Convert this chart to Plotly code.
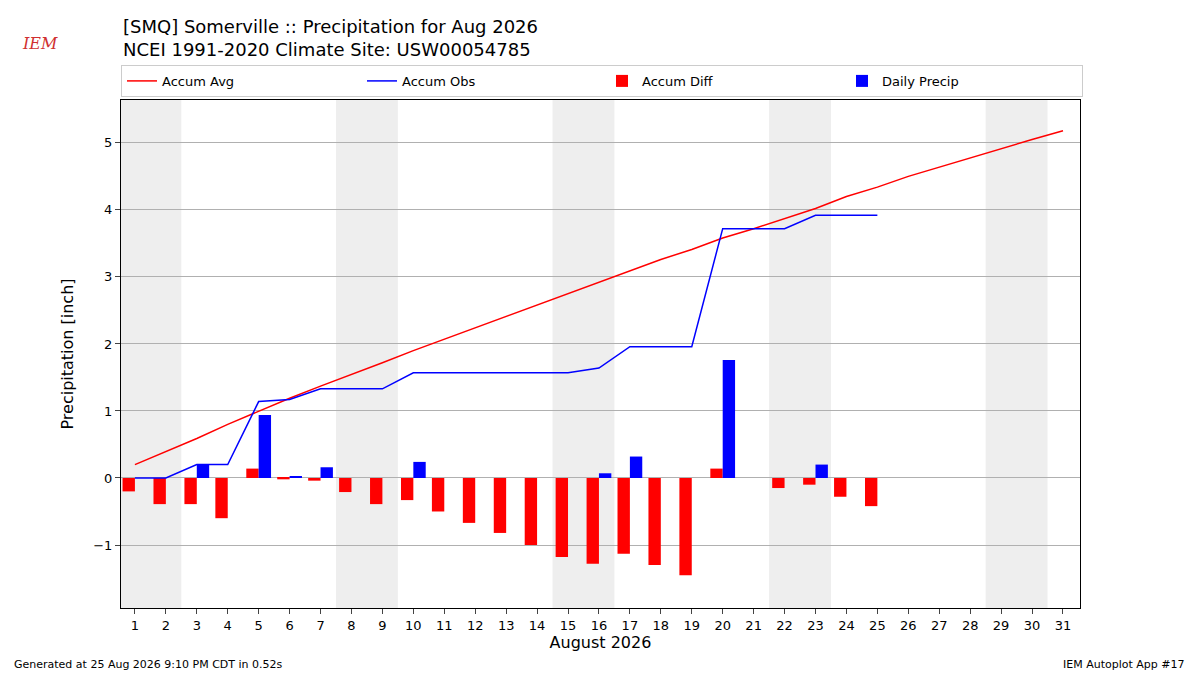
import plotly.graph_objects as go

days = list(range(1, 32))
accum_avg = [0.2,0.39,0.59,0.8,1.0,1.19,1.37,1.54,1.72,1.9,2.07,2.24,2.4,2.58,2.75,2.92,3.09,3.26,3.41,3.58,3.72,3.87,4.02,4.2,4.34,4.5,4.64,4.78,4.91,5.05,5.18]
obs_days = list(range(1, 26))
accum_obs = [0,0,0.2,0.2,1.14,1.17,1.33,1.33,1.33,1.57,1.57,1.57,1.57,1.57,1.57,1.64,1.96,1.96,1.96,3.72,3.72,3.72,3.92,3.92,3.92]
daily = [0,0,0.2,0,0.94,0.03,0.16,0,0,0.24,0,0,0,0,0,0.07,0.32,0,0,1.76,0,0,0.2,0,0]
diff = [-0.2,-0.39,-0.39,-0.6,0.14,-0.02,-0.04,-0.21,-0.39,-0.33,-0.5,-0.67,-0.82,-1.0,-1.18,-1.28,-1.13,-1.3,-1.45,0.14,0,-0.15,-0.1,-0.28,-0.42]
weekends = [(0.5,2.5),(7.5,9.5),(14.5,16.5),(21.5,23.5),(28.5,30.5)]

fig = go.Figure()
fig.add_trace(go.Scatter(x=days, y=accum_avg, mode="lines", line=dict(color="red", width=1.5), name="Accum Avg"))
fig.add_trace(go.Scatter(x=obs_days, y=accum_obs, mode="lines", line=dict(color="blue", width=1.5), name="Accum Obs"))
fig.add_trace(go.Bar(x=[d-0.2 for d in obs_days], y=diff, width=0.4, marker=dict(color="red", line=dict(width=0)), name="Accum Diff"))
fig.add_trace(go.Bar(x=[d+0.2 for d in obs_days], y=daily, width=0.4, marker=dict(color="blue", line=dict(width=0)), name="Daily Precip"))
for a, b in weekends:
    fig.add_vrect(x0=a, x1=b, fillcolor="#eeeeee", line_width=0, layer="below")

fig.update_layout(
    width=1192, height=667, plot_bgcolor="white", paper_bgcolor="white",
    margin=dict(l=113, r=120, t=92, b=67, autoexpand=False),
    font=dict(family="DejaVu Sans", size=13, color="black"),
    showlegend=True, barmode="overlay",
    legend=dict(orientation="h", x=0, y=1.006, xanchor="left", yanchor="bottom",
                entrywidth=195, bordercolor="#cccccc", borderwidth=1, font=dict(size=13)),
    xaxis=dict(range=[0.55, 31.55], tickvals=days, ticks="outside", showgrid=False,
               showline=True, linecolor="black", mirror=True, zeroline=False,
               title=dict(text="August 2026", font=dict(size=16), standoff=5)),
    yaxis=dict(range=[-1.94, 5.64], tickvals=[-1,0,1,2,3,4,5], ticktext=["\u22121","0","1","2","3","4","5"],
               ticks="outside", showgrid=True, gridcolor="#b0b0b0", showline=True, linecolor="black",
               mirror=True, zeroline=False, title=dict(text="Precipitation [inch]", font=dict(size=16))),
)
fig.add_annotation(text="[SMQ] Somerville :: Precipitation for Aug 2026<br>NCEI 1991-2020 Climate Site: USW00054785",
                   xref="paper", yref="paper", x=0, y=1.0, yshift=38, xanchor="left", yanchor="bottom",
                   showarrow=False, align="left", font=dict(size=18))
fig.add_annotation(text="Generated at 25 Aug 2026 9:10 PM CDT in 0.52s", xref="paper", yref="paper",
                   x=-0.114, y=0, yshift=-48, xanchor="left", yanchor="top", showarrow=False, font=dict(size=11))
fig.add_annotation(text="IEM Autoplot App #17", xref="paper", yref="paper",
                   x=1.112, y=0, yshift=-48, xanchor="right", yanchor="top", showarrow=False, font=dict(size=11))
fig.add_annotation(text="<i>IEM</i>", xref="paper", yref="paper", x=-0.105, y=1.0, yshift=45,
                   xanchor="left", yanchor="bottom", showarrow=False, font=dict(size=16, color="#d03030", family="DejaVu Serif"))
fig.write_html("out.html")
